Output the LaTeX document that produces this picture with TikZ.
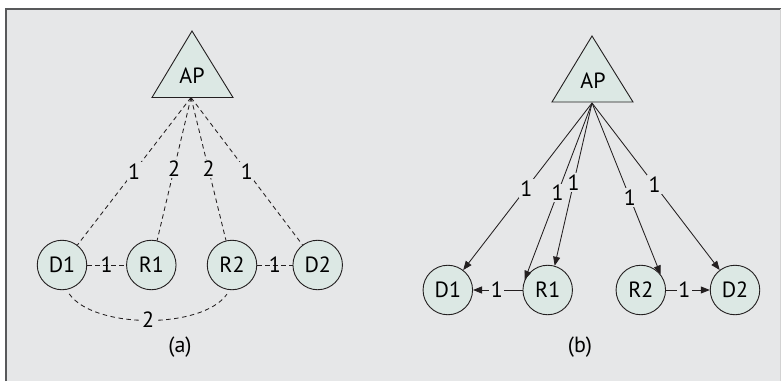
\documentclass[tikz,border=0pt]{standalone}
\usepackage{fontspec}
\setmainfont{PT Sans}
\usetikzlibrary{arrows.meta}
\definecolor{panelbg}{HTML}{E6E7E8}
\definecolor{nodefill}{HTML}{DCE8E4}
\definecolor{ink}{HTML}{231F20}
\definecolor{framegray}{HTML}{58595B}

\begin{document}
\begin{tikzpicture}[x=1pt,y=1pt,
  txt/.style={font=\fontsize{22}{26}\selectfont},
  station/.style={txt, circle, draw=ink, fill=nodefill, line width=0.9pt,
    minimum size=49.5pt, inner sep=0pt},
  apshape/.style={draw=ink, fill=nodefill, line width=0.9pt, line join=miter},
  aptext/.style={txt, inner sep=0pt},
  link/.style={draw=ink, line width=0.85pt, dash pattern=on 4.5pt off 3.5pt},
  flow/.style={draw=ink, line width=0.85pt, -{Triangle[length=9pt,width=7pt]}},
  num/.style={txt, fill=panelbg, inner sep=1.5pt},
  barenum/.style={txt, inner sep=0pt},
  caption/.style={txt}
]
\useasboundingbox (0,0) rectangle (781,381);
% page and panel background with its frame
\fill[white] (0,0) rectangle (781,381);
\fill[panelbg] (6,0) rectangle (781,372);
\draw[framegray, line width=1.8pt] (6,0) -- (6,372) -- (781,372);
\draw[gray!35, line width=0.6pt] (780.3,0) -- (780.3,372);

% ---------------- (a) ----------------
\draw[apshape] (192,350) -- (233,283.5) -- (152,283.5) -- cycle;
\node[aptext] (APa) at (192,305) {AP};
\coordinate (APa-base) at (191,283.5);

\node[station] (D1a) at (62,116) {D1};
\node[station] (R1a) at (151.3,116) {R1};
\node[station] (R2a) at (232,116) {R2};
\node[station] (D2a) at (317.7,116) {D2};

\draw[link] (APa-base) -- node[num] {1} (D1a);
\draw[link] (APa-base) -- node[num] {2} (R1a);
\draw[link] (APa-base) -- node[num] {2} (R2a);
\draw[link] (APa-base) -- node[num] {1} (D2a);

\draw[link] (D1a) -- node[barenum] {1} (R1a);
\draw[link] (R2a) -- node[barenum] {1} (D2a);
\draw[link, shorten <=5pt, shorten >=5pt]
  (D1a.-80) to[out=-55, in=-125, looseness=0.75] node[num] {2} (R2a.-95);

\node[caption] (capA) at (180,34) {(a)};

% ---------------- (b) ----------------
\draw[apshape] (592,345) -- (633,279) -- (552,279) -- cycle;
\node[aptext] (APb) at (593,300) {AP};
\coordinate (APb-base) at (592,278);

\node[station] (D1b) at (447.8,91) {D1};
\node[station] (R1b) at (547.7,91) {R1};
\node[station] (R2b) at (640.8,91) {R2};
\node[station] (D2b) at (735,91) {D2};

\draw[flow] (APb-base) -- node[num, pos=0.51] {1} (D1b);
\draw[flow] (APb-base) -- node[num, pos=0.51] {1} (R1b.156);
\draw[flow] (APb-base) -- node[num, pos=0.49] {1} (R1b.74);
\draw[flow] (APb-base) -- node[num, pos=0.55] {1} (R2b.38);
\draw[flow] (APb-base) -- node[num, pos=0.49] {1} (D2b);

\draw[flow] (R1b) -- node[num, pos=0.52] {1} (D1b);
\draw[flow] (R2b) -- node[num, pos=0.42] {1} (D2b);

\node[caption] (capB) at (580,34) {(b)};
\end{tikzpicture}
\end{document}
